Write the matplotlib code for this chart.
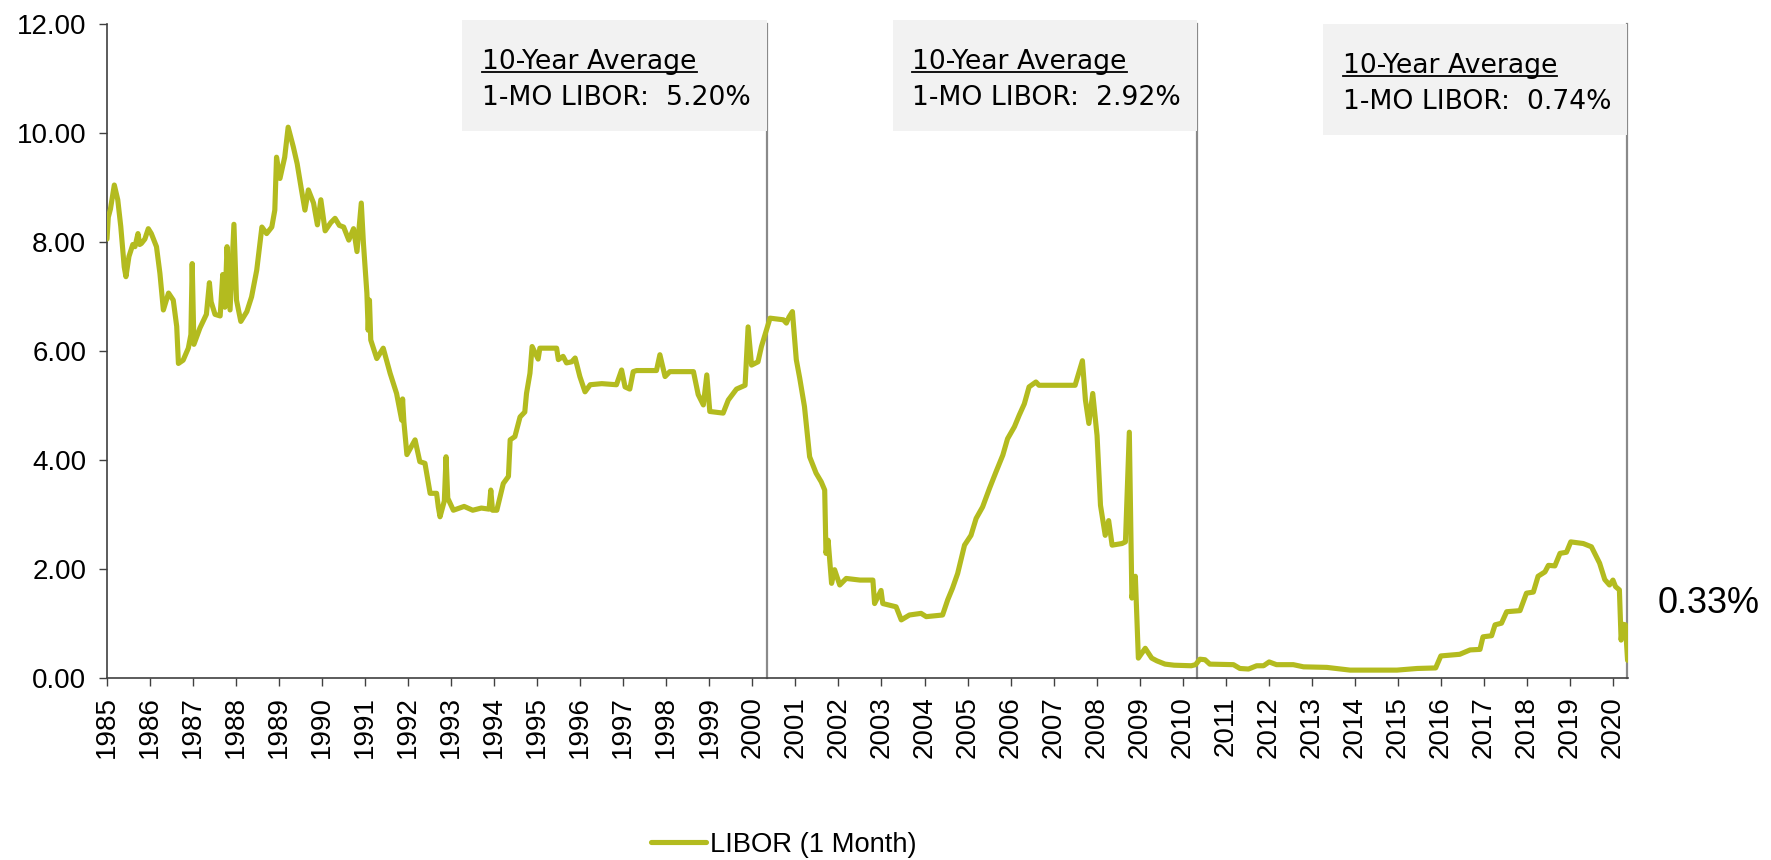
import matplotlib
matplotlib.use("Agg")
import matplotlib.pyplot as plt
from matplotlib.patches import Rectangle
from matplotlib.lines import Line2D
import numpy as np

plt.rcParams['font.family'] = ['Liberation Sans', 'DejaVu Sans']

# 1-month LIBOR observations (decimal year, percent)
dates_1985_1994 = [
    1985.00, 1985.03, 1985.08, 1985.17, 1985.25, 1985.32, 1985.40, 1985.44, 1985.51, 1985.60,
    1985.65, 1985.72, 1985.76, 1985.80, 1985.88, 1985.96, 1986.03, 1986.15, 1986.23, 1986.31,
    1986.43, 1986.54, 1986.62, 1986.66, 1986.77, 1986.89, 1986.95, 1986.98, 1987.02, 1987.16,
    1987.31, 1987.38, 1987.42, 1987.51, 1987.63, 1987.69, 1987.74, 1987.79, 1987.86, 1987.95,
    1988.01, 1988.11, 1988.25, 1988.36, 1988.48, 1988.60, 1988.71, 1988.83, 1988.90, 1988.94,
    1989.02, 1989.13, 1989.21, 1989.33, 1989.42, 1989.52, 1989.60, 1989.68, 1989.80, 1989.89,
    1989.97, 1990.07, 1990.20, 1990.30, 1990.40, 1990.50, 1990.62, 1990.73, 1990.81, 1990.91,
    1990.96, 1991.04, 1991.07, 1991.10, 1991.13, 1991.27, 1991.42, 1991.58, 1991.73, 1991.85,
    1991.87, 1991.90, 1991.97, 1992.16, 1992.27, 1992.39, 1992.51, 1992.66, 1992.70, 1992.74,
    1992.84, 1992.88, 1992.92, 1993.05, 1993.30, 1993.50, 1993.70, 1993.88, 1993.92, 1993.96,
]
rates_1985_1994 = [
    8.05, 8.45, 8.60, 9.04, 8.77, 8.28, 7.54, 7.36, 7.73, 7.95,
    7.91, 8.15, 7.95, 7.97, 8.05, 8.24, 8.15, 7.91, 7.42, 6.75,
    7.06, 6.93, 6.45, 5.77, 5.83, 6.05, 6.30, 7.60, 6.12, 6.42,
    6.67, 7.25, 6.90, 6.67, 6.64, 7.40, 6.80, 7.91, 6.75, 8.32,
    6.93, 6.54, 6.72, 6.99, 7.48, 8.27, 8.15, 8.27, 8.58, 9.55,
    9.16, 9.55, 10.10, 9.74, 9.43, 8.95, 8.58, 8.95, 8.71, 8.31,
    8.77, 8.20, 8.35, 8.43, 8.30, 8.27, 8.03, 8.24, 7.82, 8.71,
    7.97, 7.06, 6.38, 6.93, 6.20, 5.86, 6.05, 5.59, 5.22, 4.73,
    5.12, 4.70, 4.10, 4.37, 3.97, 3.94, 3.39, 3.39, 3.14, 2.96,
    3.25, 4.06, 3.30, 3.08, 3.15, 3.08, 3.12, 3.10, 3.45, 3.08,
]

dates_1994_2004 = [
    1994.06, 1994.21, 1994.33, 1994.37, 1994.48, 1994.60, 1994.71, 1994.75, 1994.83, 1994.88,
    1995.02, 1995.06, 1995.45, 1995.49, 1995.60, 1995.68, 1995.80, 1995.88, 1995.99, 1996.11,
    1996.23, 1996.50, 1996.84, 1996.96, 1997.04, 1997.15, 1997.23, 1997.31, 1997.77, 1997.85,
    1997.97, 1998.08, 1998.63, 1998.74, 1998.86, 1998.94, 1999.01, 1999.32, 1999.44, 1999.63,
    1999.83, 1999.90, 1999.98, 2000.13, 2000.21, 2000.41, 2000.72, 2000.79, 2000.85, 2000.93,
    2001.02, 2001.10, 2001.21, 2001.33, 2001.48, 2001.60, 2001.68, 2001.71, 2001.76, 2001.84,
    2001.91, 2002.03, 2002.18, 2002.50, 2002.80, 2002.84, 2002.99, 2003.03, 2003.34, 2003.46,
    2003.65, 2003.92, 2004.04, 2004.42,
]
rates_1994_2004 = [
    3.08, 3.57, 3.70, 4.37, 4.43, 4.79, 4.88, 5.22, 5.59, 6.08,
    5.85, 6.05, 6.05, 5.84, 5.90, 5.78, 5.80, 5.87, 5.53, 5.25,
    5.38, 5.40, 5.38, 5.65, 5.34, 5.30, 5.62, 5.64, 5.64, 5.93,
    5.53, 5.62, 5.62, 5.20, 5.01, 5.56, 4.89, 4.86, 5.10, 5.30,
    5.37, 6.44, 5.74, 5.80, 6.08, 6.60, 6.57, 6.51, 6.62, 6.72,
    5.84, 5.50, 4.98, 4.06, 3.76, 3.60, 3.45, 2.29, 2.53, 1.74,
    1.99, 1.71, 1.83, 1.80, 1.80, 1.37, 1.61, 1.37, 1.31, 1.07,
    1.16, 1.19, 1.13, 1.16,
]

dates_2004_2012 = [
    2004.54, 2004.65, 2004.77, 2004.93, 2005.08, 2005.20, 2005.35, 2005.51, 2005.66, 2005.82,
    2005.93, 2006.09, 2006.20, 2006.32, 2006.43, 2006.59, 2006.66, 2007.50, 2007.59, 2007.67,
    2007.74, 2007.82, 2007.91, 2008.01, 2008.09, 2008.20, 2008.28, 2008.36, 2008.59, 2008.67,
    2008.76, 2008.82, 2008.90, 2008.97, 2009.13, 2009.28, 2009.40, 2009.59, 2009.80, 2010.20,
    2010.30, 2010.40, 2010.52, 2010.63, 2011.18, 2011.33, 2011.53, 2011.72, 2011.88, 2012.01,
]
rates_2004_2012 = [
    1.44, 1.65, 1.92, 2.44, 2.62, 2.93, 3.14, 3.48, 3.78, 4.09,
    4.39, 4.61, 4.82, 5.03, 5.34, 5.43, 5.37, 5.37, 5.61, 5.82,
    5.10, 4.67, 5.22, 4.45, 3.17, 2.62, 2.89, 2.44, 2.47, 2.50,
    4.51, 1.47, 1.87, 0.37, 0.55, 0.37, 0.32, 0.26, 0.24, 0.23,
    0.25, 0.35, 0.34, 0.26, 0.25, 0.18, 0.17, 0.23, 0.23, 0.30,
]

dates_2012_2020 = [
    2012.18, 2012.57, 2012.81, 2013.35, 2013.89, 2014.98, 2015.45, 2015.88, 2016.00, 2016.44,
    2016.68, 2016.91, 2016.98, 2017.18, 2017.26, 2017.41, 2017.53, 2017.84, 2017.99, 2018.15,
    2018.26, 2018.42, 2018.50, 2018.65, 2018.77, 2018.92, 2019.02, 2019.31, 2019.50, 2019.69,
    2019.81, 2019.92, 2020.00, 2020.06, 2020.15, 2020.19, 2020.23, 2020.29, 2020.34,
]
rates_2012_2020 = [
    0.25, 0.25, 0.21, 0.20, 0.15, 0.15, 0.18, 0.19, 0.41, 0.44,
    0.52, 0.53, 0.76, 0.78, 0.98, 1.01, 1.22, 1.24, 1.56, 1.58,
    1.87, 1.95, 2.07, 2.06, 2.29, 2.31, 2.50, 2.47, 2.41, 2.11,
    1.81, 1.71, 1.80, 1.68, 1.62, 0.70, 0.99, 0.98, 0.33,
]

years = list(range(1985, 2021))
period_ends = [2000.33, 2010.33, 2020.33]
period_averages = ["5.20%", "2.92%", "0.74%"]
latest_label = "0.33%"
series_name = "LIBOR (1 Month)"

dates = np.array(dates_1985_1994 + dates_1994_2004 + dates_2004_2012 + dates_2012_2020)
rates = np.array(rates_1985_1994 + rates_1994_2004 + rates_2004_2012 + rates_2012_2020)

W, H = 1771, 860
fig = plt.figure(figsize=(W / 100, H / 100), dpi=100)
ax = fig.add_axes([107 / W, 1 - 678.3 / H, (1628 - 107) / W, (678.3 - 23.5) / H])

line_color = '#b3bb1f'
ax.plot(dates, rates, color=line_color, lw=3.7, solid_joinstyle='round',
        solid_capstyle='round', label=series_name, zorder=3)

ax.set_xlim(1985.0, 2020.35)
ax.set_ylim(0, 12)
ax.set_yticks(np.arange(0, 12.1, 2))
ax.set_yticklabels([f"{v:.2f}" for v in np.arange(0, 12.1, 2)])
ax.set_xticks(years)
ax.set_xticklabels([str(y) for y in years], rotation=90)

spine_color = '#404040'
for s in ['top', 'right']:
    ax.spines[s].set_visible(False)
for s in ['left', 'bottom']:
    ax.spines[s].set_color(spine_color)
    ax.spines[s].set_linewidth(1.2)
ax.tick_params(axis='y', length=6, width=1.0, color=spine_color, labelsize=20, pad=9)
ax.tick_params(axis='x', length=6, width=1.0, color=spine_color, labelsize=20, pad=7)

# Ten-year window boundaries and their average boxes
box_width = 7.07
box_font = dict(family='DejaVu Sans', fontsize=19.2, color='black')
title_texts = []
for i, (end, avg) in enumerate(zip(period_ends, period_averages)):
    ax.plot([end, end], [0, 12.0], color='#8a8a8a', lw=1.6, zorder=2, clip_on=False)
    shift = 0.075 if i == 2 else 0.0
    left = end - box_width
    ax.add_patch(Rectangle((left, 10.03 - shift), box_width, 2.04, facecolor='#f2f2f2',
                           edgecolor='none', zorder=4, clip_on=False))
    t = ax.text(left + 0.46, 11.17 - shift, "10-Year Average", va='baseline', ha='left',
                zorder=5, **box_font)
    ax.text(left + 0.46, 10.51 - shift, f"1-MO LIBOR:  {avg}", va='baseline', ha='left',
            zorder=5, **box_font)
    title_texts.append((t, 11.17 - shift))

fig.text(1658 / W, 1 - 613 / H, latest_label, fontsize=26, ha='left', va='baseline')

ax.legend(loc='center', bbox_to_anchor=(784 / W, 1 - 845 / H), bbox_transform=fig.transFigure,
          frameon=False, fontsize=19.7, handlelength=2.0, handletextpad=0.15, borderpad=0,
          borderaxespad=0)

# Underline the box headings
fig.canvas.draw()
renderer = fig.canvas.get_renderer()
for t, yb in title_texts:
    bb = t.get_window_extent(renderer)
    y_pix = ax.transData.transform((0, yb))[1] - 3.5
    fig.add_artist(Line2D([bb.x0 / W, bb.x1 / W], [y_pix / H, y_pix / H],
                          transform=fig.transFigure, color='black', lw=1.3, zorder=6))

fig.savefig("out.png", dpi=100)
